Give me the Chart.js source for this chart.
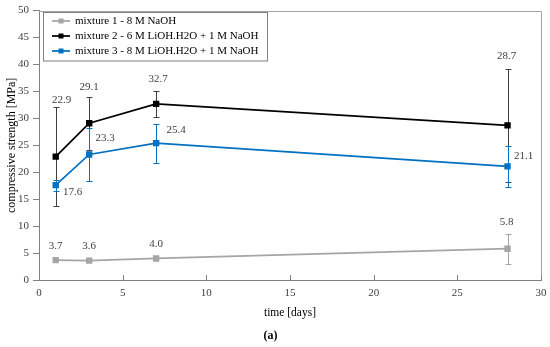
<!DOCTYPE html>
<html><head><meta charset="utf-8">
<script src="https://cdn.jsdelivr.net/npm/chart.js@4/dist/chart.umd.min.js"></script>
<style>html,body{margin:0;padding:0;background:#fff}</style>
</head><body>
<canvas id="c" width="550" height="347" style="display:block;width:550px;height:347px"></canvas>
<script>
// ---- data ----
const days = [1, 3, 7, 28];
const seriesNames = ['mixture 1 - 8 M NaOH', 'mixture 2 - 6 M LiOH.H2O + 1 M NaOH', 'mixture 3 - 8 M LiOH.H2O + 1 M NaOH'];
const mixture1 = [3.7, 3.6, 4.0, 5.8];
const mixture2 = [22.9, 29.1, 32.7, 28.7];
const mixture3 = [17.6, 23.3, 25.4, 21.1];
const mixture1Err = [0, 0, 0, 2.8];
const mixture2Err = [9.2, 4.9, 2.45, 10.5];
const mixture3Err = [1.0, 4.9, 3.6, 3.8];
const xTicks = [0, 5, 10, 15, 20, 25, 30];
const yTicks = [0, 5, 10, 15, 20, 25, 30, 35, 40, 45, 50];

// ---- label placement (pixel offsets from the point) ----
const labelOffsets1 = [[0, -14], [0, -14], [0, -14], [-1, -27]];
const labelOffsets2 = [[6, -57], [0, -36], [2, -25], [-1, -69]];
const labelOffsets3 = [[17, 7], [16, -16], [20, -13], [16, -10]];

const F = "'Liberation Serif', 'DejaVu Serif', serif";
const colors = ['#A5A5A5', '#000000', '#0070C0'];
const errColors = ['#A5A5A5', '#404040', '#0070C0'];

function mk(i, vals, errs, offs) {
  return {
    label: seriesNames[i],
    data: days.map((d, k) => ({x: d, y: vals[k]})),
    err: errs, offs: offs, errColor: errColors[i],
    borderColor: colors[i], backgroundColor: colors[i],
    pointBackgroundColor: colors[i], pointBorderColor: colors[i],
    borderWidth: 1.75, pointStyle: 'rect', pointRadius: 4.5, pointBorderWidth: 0,
    tension: 0, fill: false
  };
}

const annot = {
  id: 'annot',
  beforeDatasetsDraw(chart) {
    const {ctx, scales: {x, y}} = chart;
    chart.data.datasets.forEach(ds => {
      ctx.save();
      ctx.strokeStyle = ds.errColor; ctx.lineWidth = 1;
      ds.data.forEach((p, i) => {
        const e = ds.err[i]; if (!e) return;
        const px = Math.round(x.getPixelForValue(p.x)) + 0.5;
        const y1 = Math.round(y.getPixelForValue(p.y + e)) + 0.5;
        const y2 = Math.round(y.getPixelForValue(p.y - e)) + 0.5;
        ctx.beginPath();
        ctx.moveTo(px, y1); ctx.lineTo(px, y2);
        ctx.moveTo(px - 3, y1); ctx.lineTo(px + 3, y1);
        ctx.moveTo(px - 3, y2); ctx.lineTo(px + 3, y2);
        ctx.stroke();
      });
      ctx.restore();
    });
  },
  afterDatasetsDraw(chart) {
    const {ctx, chartArea: a, scales: {x, y}} = chart;
    ctx.save();
    // frame top/right
    ctx.strokeStyle = '#A6A6A6'; ctx.lineWidth = 1;
    ctx.beginPath();
    ctx.moveTo(Math.round(a.left), Math.round(a.top) + 0.5);
    ctx.lineTo(Math.round(a.right) + 0.5, Math.round(a.top) + 0.5);
    ctx.lineTo(Math.round(a.right) + 0.5, Math.round(a.bottom));
    ctx.stroke();
    // inward x ticks
    ctx.strokeStyle = '#808080';
    ctx.beginPath();
    xTicks.forEach(v => {
      const px = Math.round(x.getPixelForValue(v)) + 0.5;
      ctx.moveTo(px, a.bottom); ctx.lineTo(px, a.bottom - 5);
    });
    ctx.stroke();
    // data labels
    ctx.fillStyle = '#404040';
    ctx.font = '11px ' + F;
    ctx.textAlign = 'center'; ctx.textBaseline = 'middle';
    chart.data.datasets.forEach(ds => {
      ds.data.forEach((p, i) => {
        const px = x.getPixelForValue(p.x), py = y.getPixelForValue(p.y);
        ctx.fillText(p.y.toFixed(1), px + ds.offs[i][0], py + ds.offs[i][1]);
      });
    });
    // legend
    ctx.fillStyle = '#fff';
    ctx.fillRect(43.5, 12.5, 224, 48.5);
    ctx.strokeStyle = '#808080';
    ctx.strokeRect(43.5, 12.5, 224, 48.5);
    const rows = [21, 36, 51];
    ctx.textAlign = 'left';
    ctx.font = '11px ' + F;
    chart.data.datasets.forEach((ds, i) => {
      const ry = rows[i];
      ctx.strokeStyle = colors[i]; ctx.lineWidth = 1.75;
      ctx.beginPath(); ctx.moveTo(52, ry); ctx.lineTo(70, ry); ctx.stroke();
      ctx.fillStyle = colors[i];
      ctx.fillRect(58.5, ry - 2.5, 5, 5);
      ctx.fillStyle = '#000';
      ctx.fillText(ds.label, 75, ry + 0.5);
    });
    ctx.restore();
  }
};

new Chart(document.getElementById('c'), {
  type: 'line',
  data: {datasets: [
    mk(0, mixture1, mixture1Err, labelOffsets1),
    mk(1, mixture2, mixture2Err, labelOffsets2),
    mk(2, mixture3, mixture3Err, labelOffsets3)
  ]},
  options: {
    responsive: false, animation: false, devicePixelRatio: 1,
    layout: {padding: {top: 7, right: 9, left: 0, bottom: 0}},
    plugins: {
      legend: {display: false}, tooltip: {enabled: false},
      title: {display: true, text: '(a)', position: 'bottom', color: '#000',
        font: {family: F, size: 12, weight: 'bold', lineHeight: 1.2}, padding: {top: 0, bottom: 4}}
    },
    scales: {
      x: {
        type: 'linear', min: 0, max: 30,
        afterBuildTicks: s => { s.ticks = xTicks.map(v => ({value: v})); },
        grid: {display: true, drawOnChartArea: false, drawTicks: true, tickLength: 4, tickColor: 'rgba(0,0,0,0)'},
        border: {display: true, color: '#808080', width: 1},
        ticks: {padding: 3, color: '#404040', font: {family: F, size: 11}, maxRotation: 0, autoSkip: false},
        title: {display: true, text: 'time [days]', color: '#000', font: {family: F, size: 11.5, lineHeight: 1.2}, padding: {top: 0, bottom: 9}},
        afterFit: s => { s.height = 48.6; }
      },
      y: {
        type: 'linear', min: 0, max: 50,
        afterBuildTicks: s => { s.ticks = yTicks.map(v => ({value: v})); },
        grid: {display: true, drawOnChartArea: false, drawTicks: true, tickLength: 6, tickColor: '#808080'},
        border: {display: true, color: '#808080', width: 1},
        ticks: {padding: 4, color: '#404040', font: {family: F, size: 11}, autoSkip: false},
        title: {display: true, text: 'compressive strength [MPa]', color: '#000', font: {family: F, size: 12, lineHeight: 2}, padding: 0},
        afterFit: s => { s.width = 39; }
      }
    }
  },
  plugins: [annot]
});
</script>
</body></html>
